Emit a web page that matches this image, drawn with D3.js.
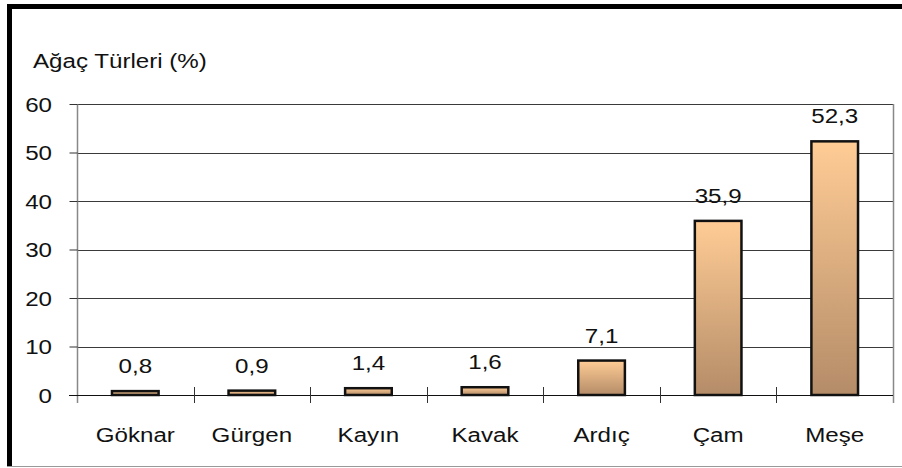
<!DOCTYPE html>
<html>
<head>
<meta charset="utf-8">
<title>Ağaç Türleri</title>
<script src="https://d3js.org/d3.v7.min.js"></script>
<style>
  body { margin: 0; background: #fff; }
  text { font-family: "Liberation Sans", Arial, sans-serif; fill: #111; }
</style>
</head>
<body>
<div id="chart"></div>
<script>
// data
var categories = ["Göknar", "Gürgen", "Kayın", "Kavak", "Ardıç", "Çam", "Meşe"];
var values = [0.8, 0.9, 1.4, 1.6, 7.1, 35.9, 52.3];
var yTicks = [0, 10, 20, 30, 40, 50, 60];
var title = "Ağaç Türleri (%)";

var W = 902, H = 468;
var plot = {left: 77, right: 893, top: 104, bottom: 395};
var stretch = 1.15; // text in the source is a bit wider than normal

var svg = d3.select("#chart").append("svg")
  .attr("width", W).attr("height", H);

var defs = svg.append("defs");
var grad = defs.append("linearGradient")
  .attr("id", "barGrad").attr("x1", 0).attr("y1", 0).attr("x2", 0).attr("y2", 1);
grad.append("stop").attr("offset", "0%").attr("stop-color", "#ffcc95");
grad.append("stop").attr("offset", "100%").attr("stop-color", "#b48c68");

// outer frame
svg.append("rect").attr("x", 7).attr("y", 4).attr("width", W - 7).attr("height", 5).attr("fill", "#000");
svg.append("rect").attr("x", 7).attr("y", 4).attr("width", 5).attr("height", 462).attr("fill", "#000");
svg.append("line").attr("x1", 7).attr("x2", W).attr("y1", 466.5).attr("y2", 466.5)
  .attr("stroke", "#999").attr("stroke-width", 1);

var x = d3.scaleBand().domain(categories).range([plot.left, plot.right]).paddingInner(0.6).paddingOuter(0.3);
var xb = d3.scaleBand().domain(categories).range([plot.left, plot.right]);
var y = d3.scaleLinear().domain([0, 60]).range([plot.bottom, plot.top]);

function wideText(sel, tx, ty, anchor, str) {
  sel.append("text")
    .attr("transform", "translate(" + tx + "," + ty + ") scale(" + stretch + ",1)")
    .attr("text-anchor", anchor)
    .style("font-size", "21px")
    .text(str);
}

// gridlines
svg.append("g").selectAll("line").data(yTicks.filter(function(d){ return d > 0; })).join("line")
  .attr("x1", plot.left).attr("x2", plot.right)
  .attr("y1", function(d){ return Math.round(y(d)) + 0.5; })
  .attr("y2", function(d){ return Math.round(y(d)) + 0.5; })
  .attr("stroke", "#3a3a3a").attr("stroke-width", 1);

// plot right border
svg.append("line").attr("x1", plot.right + 0.5).attr("x2", plot.right + 0.5)
  .attr("y1", plot.top).attr("y2", plot.bottom + 8)
  .attr("stroke", "#888").attr("stroke-width", 1.5);

// y axis
var yAxis = svg.append("g")
  .attr("transform", "translate(" + (plot.left + 0.5) + ",0)")
  .call(d3.axisLeft(y).tickValues(yTicks).tickSize(8).tickFormat(""));
yAxis.select(".domain").attr("stroke", "#888").attr("stroke-width", 1.5)
  .attr("d", "M0," + plot.top + "V" + (plot.bottom + 8));
yAxis.selectAll(".tick line").attr("stroke", "#333");
yTicks.forEach(function(t) {
  wideText(svg, 52, y(t) + 7.5, "end", String(t));
});

// x axis
var xAxis = svg.append("g")
  .attr("transform", "translate(0," + (Math.round(plot.bottom) + 0.5) + ")")
  .call(d3.axisBottom(xb).tickSize(0).tickFormat(""));
xAxis.select(".domain").attr("stroke", "#111").attr("d", "M" + (plot.left - 8) + ",0H" + plot.right);
// category boundary ticks
svg.append("g").selectAll("line").data(categories.slice(1)).join("line")
  .attr("x1", function(d){ return Math.round(xb(d)) + 0.5; })
  .attr("x2", function(d){ return Math.round(xb(d)) + 0.5; })
  .attr("y1", plot.bottom - 8).attr("y2", plot.bottom + 8)
  .attr("stroke", "#333").attr("stroke-width", 1);
categories.forEach(function(c) {
  wideText(svg, xb(c) + xb.bandwidth() / 2, 442, "middle", c);
});

// bars
svg.append("g").selectAll("rect").data(values).join("rect")
  .attr("x", function(d, i){ return x(categories[i]); })
  .attr("y", function(d){ return y(d); })
  .attr("width", x.bandwidth())
  .attr("height", function(d){ return y(0) - y(d); })
  .attr("fill", "url(#barGrad)")
  .attr("stroke", "#111").attr("stroke-width", 2.5);

// value labels
values.forEach(function(v, i) {
  wideText(svg, xb(categories[i]) + xb.bandwidth() / 2, y(v) - 18, "middle", String(v).replace(".", ","));
});

// title
wideText(svg, 33, 68, "start", title);
</script>
</body>
</html>
